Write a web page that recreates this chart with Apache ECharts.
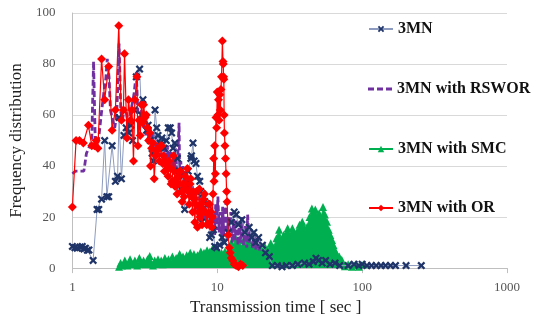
<!DOCTYPE html>
<html>
<head>
<meta charset="utf-8">
<script src="https://cdn.jsdelivr.net/npm/echarts@6/dist/echarts.min.js"></script>
<style>
    html, body {margin: 0; padding: 0; background: #fff;}
    #freq-chart {width: 538px; height: 321px;}
</style>
</head>
<body>
<div id="freq-chart"></div>
<script>
const seriesNames = ["3MN", "3MN with RSWOR", "3MN with SMC", "3MN with OR"];
const yTicks = [0, 20, 40, 60, 80, 100];

// [transmission time (sec), frequency]
const mnData = [
    [1.0, 8.5], [1.04, 8], [1.08, 7.8], [1.13, 8.3], [1.17, 8.5], [1.2, 7.5], [1.23, 7.8], [1.27, 7], [1.3, 7.1],
    [1.39, 3], [1.48, 23], [1.52, 23], [1.59, 27], [1.67, 50], [1.73, 28], [1.78, 28], [1.88, 48], [1.98, 34],
    [2.05, 36], [2.1, 59], [2.18, 35], [2.27, 52], [2.35, 55], [2.45, 53], [2.54, 56], [2.6, 50], [2.68, 62],
    [2.76, 75], [2.91, 78], [3.0, 60], [3.07, 66], [3.15, 58], [3.25, 54], [3.33, 56], [3.45, 50], [3.55, 45],
    [3.62, 42], [3.72, 62], [3.82, 55], [3.9, 52], [4.03, 49], [4.15, 51], [4.3, 47], [4.45, 50], [4.59, 55],
    [4.74, 55], [4.84, 53], [4.95, 47], [5.1, 49], [5.3, 43], [5.45, 38], [5.58, 31], [5.75, 36], [5.96, 23],
    [6.1, 33], [6.3, 38], [6.57, 43], [6.64, 44], [6.8, 49], [6.93, 42], [7.13, 41], [7.3, 36], [7.57, 34],
    [7.7, 30], [7.78, 18], [7.93, 29], [8.2, 26], [8.6, 25], [8.87, 12], [9.1, 13], [9.4, 15], [9.6, 8.5],
    [9.9, 8], [10.4, 9], [10.8, 12], [11.2, 10], [11.9, 14], [12.5, 18], [13.1, 22], [13.5, 21], [14.0, 17],
    [14.8, 19], [15.5, 14], [16.6, 16], [17.3, 12], [17.9, 14], [18.4, 10], [19.3, 12], [20.5, 9], [21.5, 6],
    [22.9, 4.5], [24, 1], [26, 1], [28, 0.5], [30, 1], [33, 1], [36, 1.5], [40, 2], [43, 1.5], [46, 2.5],
    [48, 3.9], [50, 3], [53, 2], [56, 3], [60, 1.5], [65, 2], [70, 1], [80, 1], [88, 1.5], [95, 1], [100, 1.5],
    [108, 1], [116, 1], [125, 1], [135, 1], [145, 1], [157, 1], [170, 1], [201, 1], [256, 1]
];

const rsworData = [
    [1.0, 37], [1.05, 38], [1.1, 38], [1.15, 38], [1.2, 38], [1.25, 45], [1.32, 48], [1.36, 50], [1.4, 81],
    [1.44, 48], [1.48, 47], [1.52, 51], [1.58, 60], [1.65, 69], [1.7, 74], [1.74, 82], [1.79, 75], [1.83, 62],
    [1.9, 58], [1.96, 55], [2.02, 60], [2.06, 72], [2.1, 88], [2.16, 61], [2.22, 58], [2.28, 63], [2.34, 62],
    [2.42, 57], [2.5, 60], [2.58, 64], [2.66, 68], [2.72, 73], [2.76, 77], [2.83, 61], [2.9, 60], [2.95, 56],
    [3.0, 62], [3.08, 55], [3.15, 58], [3.22, 52], [3.3, 57], [3.38, 50], [3.45, 55], [3.52, 48], [3.6, 54],
    [3.68, 47], [3.76, 52], [3.85, 45], [3.95, 50], [4.05, 44], [4.15, 49], [4.25, 42], [4.35, 47], [4.45, 40],
    [4.55, 48], [4.65, 41], [4.75, 46], [4.85, 39], [4.95, 45], [5.05, 38], [5.15, 47], [5.25, 37], [5.35, 45],
    [5.45, 57], [5.5, 36], [5.6, 42], [5.7, 34], [5.8, 40], [5.9, 32], [6.0, 38], [6.1, 30], [6.2, 36], [6.3, 28],
    [6.45, 34], [6.6, 27], [6.75, 32], [6.9, 25], [7.05, 30], [7.2, 23], [7.35, 28], [7.5, 22], [7.65, 27],
    [7.8, 20], [7.95, 25], [8.1, 19], [8.25, 24], [8.4, 17], [8.55, 23], [8.7, 16], [8.85, 22], [9.0, 15],
    [9.15, 24], [9.3, 14], [9.45, 21], [9.6, 13], [9.75, 25], [9.9, 15], [10.1, 28], [10.3, 14], [10.5, 22],
    [10.7, 12], [10.9, 24], [11.1, 13], [11.3, 21], [11.5, 26], [11.7, 11], [11.9, 20], [12.1, 12], [12.4, 22],
    [12.7, 10], [13.0, 19], [13.3, 11], [13.6, 21], [13.9, 9], [14.2, 18], [14.5, 10], [14.8, 20], [15.2, 9],
    [15.6, 17], [16.0, 8], [16.2, 21], [16.6, 10], [17.0, 15], [17.5, 8], [18.0, 13], [18.5, 7], [19.0, 12],
    [19.5, 7], [20.0, 9]
];

const smcData = [
    [2.1, 0.5], [2.15, 2], [2.2, 1], [2.3, 3], [2.4, 1], [2.5, 3.5], [2.6, 1.5], [2.7, 3], [2.8, 1], [2.9, 4],
    [3.0, 2], [3.1, 3], [3.2, 1.5], [3.3, 3.5], [3.42, 4.7], [3.5, 2], [3.6, 1], [3.7, 3], [3.8, 2], [3.9, 3.5],
    [4.0, 2], [4.1, 3], [4.2, 1.5], [4.35, 4], [4.5, 2.5], [4.6, 3.5], [4.75, 2], [4.9, 4.5], [5.05, 2.5],
    [5.2, 4], [5.35, 3], [5.5, 5.5], [5.65, 3], [5.8, 4.5], [6.0, 3], [6.15, 5], [6.3, 3.5], [6.5, 6], [6.7, 4],
    [6.9, 5.5], [7.1, 3.5], [7.3, 5], [7.5, 4], [7.7, 6.5], [7.9, 4.5], [8.1, 6], [8.3, 4], [8.5, 7], [8.7, 5],
    [8.9, 6.5], [9.1, 4.5], [9.3, 7.8], [9.5, 5], [9.7, 6.5], [9.9, 5], [10.1, 7], [10.4, 4.5], [10.7, 6],
    [11.0, 4], [11.3, 6.5], [11.6, 5], [12.0, 7], [12.5, 10], [12.9, 8], [13.3, 12], [13.8, 9], [14.2, 11],
    [14.8, 8], [15.4, 11.5], [16.0, 9], [16.6, 11], [17.3, 7], [18.0, 9], [18.8, 6.5], [19.6, 8], [20.4, 6],
    [21.3, 8.5], [22.2, 7], [23.4, 9.7], [24.5, 8], [25.6, 11.7], [26.7, 15], [27.8, 11], [28.7, 13],
    [29.6, 12.4], [30.6, 15.6], [31.7, 13], [33, 15.6], [34.3, 13.5], [35.6, 14.3], [37, 17], [38.6, 18.2],
    [40, 15.5], [41.7, 16.2], [43.3, 20], [45, 23.4], [46.4, 21], [47.5, 23], [49, 20.1], [50.5, 21.5],
    [52, 19], [53.7, 24], [55.3, 21], [57.2, 18.2], [58.8, 15], [60.3, 13], [62, 11], [63.5, 9], [65, 7],
    [67, 5.2], [69.5, 4.5], [72.3, 3.3], [74, 1.5], [76, 0.7], [80, 1.5], [85, 0.5], [90, 1.5], [95, 0.5],
    [102, 1.5]
];

const orData = [
    [1.0, 24], [1.06, 50], [1.12, 50], [1.19, 49], [1.29, 56], [1.36, 48], [1.42, 48], [1.46, 50], [1.5, 47],
    [1.59, 82], [1.67, 66], [1.78, 79], [1.88, 54], [1.98, 62], [2.09, 95], [2.18, 58], [2.25, 62], [2.29, 84],
    [2.38, 51], [2.44, 66], [2.52, 58], [2.58, 62], [2.64, 42], [2.7, 66], [2.79, 75], [2.83, 48], [2.88, 58],
    [2.94, 52], [3.0, 64], [3.05, 57], [3.1, 64], [3.17, 59], [3.24, 60], [3.3, 55], [3.36, 50], [3.42, 53],
    [3.46, 40], [3.52, 47], [3.6, 49], [3.67, 35], [3.75, 44], [3.82, 46], [3.9, 47], [3.98, 42], [4.05, 48],
    [4.14, 48], [4.2, 41], [4.25, 44], [4.32, 38], [4.4, 42], [4.5, 40], [4.58, 36], [4.65, 42], [4.74, 39],
    [4.8, 33], [4.88, 34], [4.98, 44], [5.05, 38], [5.12, 32], [5.2, 35], [5.28, 29], [5.35, 36], [5.42, 33],
    [5.5, 38], [5.58, 38], [5.65, 30], [5.72, 26], [5.8, 33], [5.9, 28], [6.0, 36], [6.1, 31], [6.22, 39],
    [6.3, 30], [6.4, 25], [6.5, 33], [6.56, 35], [6.65, 28], [6.75, 22], [6.85, 30], [6.93, 27], [7.0, 18],
    [7.1, 25], [7.2, 30], [7.3, 16], [7.4, 22], [7.52, 31], [7.6, 20], [7.74, 25], [7.85, 17], [7.95, 23],
    [8.05, 27], [8.17, 29], [8.3, 22], [8.45, 17], [8.6, 21], [8.7, 25], [8.83, 25], [8.95, 18], [9.05, 22],
    [9.15, 16], [9.25, 20], [9.35, 29], [9.45, 43], [9.5, 34], [9.6, 48], [9.7, 37], [9.8, 59], [9.9, 55],
    [10.0, 69], [10.1, 60], [10.2, 66], [10.3, 58], [10.4, 68], [10.5, 62], [10.6, 70], [10.7, 75], [10.85, 89],
    [10.95, 81], [11.0, 80], [11.05, 75], [11.1, 74], [11.15, 60], [11.2, 53], [11.3, 48], [11.4, 43],
    [11.5, 37], [11.6, 30], [11.7, 26], [11.9, 13], [12.1, 8], [12.3, 6], [12.5, 4], [12.8, 3], [13.1, 1.5],
    [13.5, 1], [14.0, 0.5], [14.5, 1.5], [15.0, 1]
];

const serif = "Liberation Serif";
const xMarker = "path://M2,0L5,3L8,0L10,2L7,5L10,8L8,10L5,7L2,10L0,8L3,5L0,2Z";
const dashIcon = "path://M0,0h6v3h-6zM9,0h6v3h-6zM18,0h6v3h-6z";

const chart = echarts.init(document.getElementById("freq-chart"));

// one legend per entry, stacked down the right side
const legendTops = [21, 81, 141, 200];

chart.setOption({
    animation: false,
    backgroundColor: "#fff",
    grid: {left: 70, right: 31, top: 13, bottom: 51},
    legend: seriesNames.map((name, i) => ({
        data: [i === 1 ? {name: name, icon: dashIcon} : name],
        left: 368,
        top: legendTops[i],
        padding: 0,
        itemWidth: 24,
        itemHeight: i === 1 ? 3 : 8,
        selectedMode: false,
        textStyle: {fontFamily: serif, fontWeight: "bold", fontSize: 16, color: "#111"}
    })),
    xAxis: {
        type: "log",
        logBase: 10,
        min: 1,
        max: 1000,
        name: "Transmission time [ sec ]",
        nameLocation: "middle",
        nameGap: 24,
        nameTextStyle: {fontFamily: serif, fontSize: 17, color: "#222", padding: [0, 28, 0, 0]},
        axisLine: {lineStyle: {color: "#bfbfbf"}},
        axisTick: {show: true, length: 5, lineStyle: {color: "#bfbfbf"}},
        minorTick: {show: false},
        splitLine: {show: false},
        axisLabel: {fontFamily: serif, fontSize: 13, color: "#555", margin: 13, formatter: v => String(v)}
    },
    yAxis: {
        type: "value",
        min: 0,
        max: 100,
        interval: 20,
        name: "Frequency distribution",
        nameLocation: "middle",
        nameGap: 44,
        nameTextStyle: {fontFamily: serif, fontSize: 17, color: "#222"},
        axisLine: {show: true, lineStyle: {color: "#bfbfbf"}},
        axisTick: {show: false},
        splitLine: {lineStyle: {color: "#d9d9d9"}},
        axisLabel: {
            fontFamily: serif, fontSize: 13, color: "#555", margin: 17,
            formatter: v => yTicks.includes(v) ? String(v) : ""
        }
    },
    series: [
        {
            name: seriesNames[2],
            type: "line",
            data: smcData,
            z: 2,
            symbol: "triangle",
            symbolSize: 8,
            itemStyle: {color: "#00B050"},
            lineStyle: {color: "#00B050", width: 1},
            areaStyle: {color: "#00B050", opacity: 1}
        },
        {
            name: seriesNames[1],
            type: "line",
            data: rsworData,
            z: 3,
            symbol: "none",
            itemStyle: {color: "#7030A0"},
            lineStyle: {color: "#7030A0", width: 2.8, type: [6, 3]}
        },
        {
            name: seriesNames[0],
            type: "line",
            data: mnData,
            z: 4,
            symbol: xMarker,
            symbolSize: 8,
            itemStyle: {color: "#1F3468"},
            lineStyle: {color: "#8C9BBF", width: 1}
        },
        {
            name: seriesNames[3],
            type: "line",
            data: orData,
            z: 5,
            symbol: "diamond",
            symbolSize: 9,
            itemStyle: {color: "#FF0000"},
            lineStyle: {color: "#FF0000", width: 1.2}
        }
    ]
});
</script>
</body>
</html>
